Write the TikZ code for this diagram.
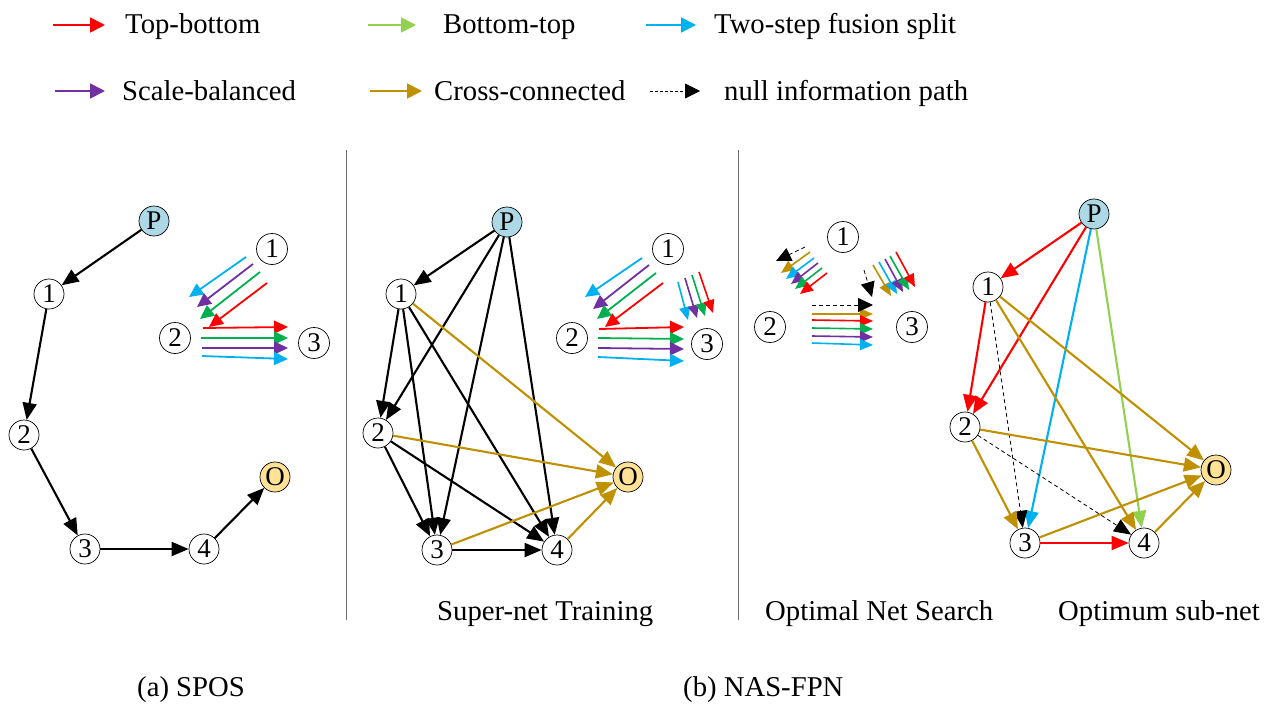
\documentclass[tikz,border=0pt]{standalone}
\usepackage{fontspec}
\setmainfont{Liberation Serif}
\usetikzlibrary{arrows.meta}
\definecolor{cred}{RGB}{255,0,0}
\definecolor{cgreenl}{RGB}{146,208,80}
\definecolor{cblue}{RGB}{0,176,240}
\definecolor{cpurple}{RGB}{112,48,160}
\definecolor{cgold}{RGB}{191,144,0}
\definecolor{cgreen}{RGB}{0,176,80}
\definecolor{cP}{RGB}{173,216,230}
\definecolor{cO}{RGB}{255,226,150}
\definecolor{csep}{RGB}{110,110,110}
\begin{document}
\begin{tikzpicture}[x=1pt,y=-1pt,
  txt/.style={font=\fontsize{28.7}{34}\selectfont,anchor=base west,inner sep=0pt},
  gn/.style={circle,draw=black,line width=0.7pt,minimum size=30pt,inner sep=0pt,fill=white,font=\fontsize{27}{27}\selectfont},
  sn/.style={circle,draw=black,line width=0.7pt,minimum size=31pt,inner sep=0pt,font=\fontsize{27}{27}\selectfont},
  pn/.style={gn,fill=cP},
  on/.style={gn,fill=cO},
  ed/.style={line width=2.1pt,-{Triangle[length=17pt,width=14pt]}},
  sa/.style={line width=1.8pt,-{Triangle[length=14pt,width=13pt]}},
  ta/.style={line width=1.6pt,-{Triangle[length=13pt,width=11pt]}},
  nl/.style={line width=0.8pt,dash pattern=on 4pt off 3pt,-{Triangle[length=17pt,width=14pt]}},
  tnl/.style={line width=0.8pt,dash pattern=on 4pt off 3pt,-{Triangle[length=15pt,width=14pt]}},
  la/.style={line width=1.8pt,-{Triangle[length=15pt,width=15pt]}},
  lnl/.style={line width=0.8pt,dash pattern=on 3pt off 2pt,-{Triangle[length=15pt,width=15pt]}},
  sep/.style={draw=csep,line width=1pt},
]
\fill[white] (0,0) rectangle (1267,704);
\useasboundingbox (0,0) rectangle (1267,704);

% ---------- legend ----------
\foreach \n/\c/\xa/\xb/\y in {l1/cred/53/105/25, l2/cgreenl/368/416/25, l3/cblue/646/696/25,
  l4/cpurple/55/105/91, l5/cgold/370/422/91}{
  \coordinate (\n s) at (\xa,\y); \coordinate (\n e) at (\xb,\y);
  \draw[la,draw=\c] (\n s) -- (\n e);
}
\coordinate (l6s) at (650,91); \coordinate (l6e) at (700,91);
\draw[lnl,draw=black] (l6s) -- (l6e);
\node[txt] (t1) at (125,34) {Top-bottom};
\node[txt] (t2) at (443,34) {Bottom-top};
\node[txt] (t3) at (714,34) {Two-step fusion split};
\node[txt] (t4) at (122,100) {Scale-balanced};
\node[txt] (t5) at (434,100) {Cross-connected};
\node[txt] (t6) at (724,100) {null information path};

% ---------- separators ----------
\coordinate (s1a) at (346,150); \coordinate (s1b) at (346,620);
\coordinate (s2a) at (738,150); \coordinate (s2b) at (738,620);
\draw[sep] (s1a) -- (s1b);
\draw[sep] (s2a) -- (s2b);

% ---------- captions ----------
\node[txt] (c1) at (437,620) {Super-net Training};
\node[txt] (c2) at (765,620) {Optimal Net Search};
\node[txt] (c3) at (1058,620) {Optimum sub-net};
\node[txt] (c4) at (137,696) {(a) SPOS};
\node[txt] (c5) at (683,696) {(b) NAS-FPN};

% ---------- panel (a) ----------
\node[pn] (aP) at (154,221) {P};
\node[gn] (a1) at (49,294) {1};
\node[gn] (a2) at (24,435) {2};
\node[gn] (a3) at (85,549) {3};
\node[gn] (a4) at (204,549) {4};
\node[on] (aO) at (275,477) {O};
\draw[ed] (aP) -- (a1);
\draw[ed] (a1) -- (a2);
\draw[ed] (a2) -- (a3);
\draw[ed] (a3) -- (a4);
\draw[ed] (a4) -- (aO);

\node[sn] (as1) at (272,249) {1};
\node[sn] (as2) at (175,338) {2};
\node[sn] (as3) at (314,343) {3};
\foreach \n/\c/\xa/\ya/\xb/\yb in {
  aa1/cblue/246/257/189/297, aa2/cpurple/253/264/197/307, aa3/cgreen/260/272/200/319, aa4/cred/267/283/209/327,
  aa5/cred/203/328/288/327, aa6/cgreen/201/338/288/338, aa7/cpurple/202/348/288/348, aa8/cblue/202/356/288/359}{
  \coordinate (\n s) at (\xa,\ya); \coordinate (\n e) at (\xb,\yb);
  \draw[sa,draw=\c] (\n s) -- (\n e);
}

% ---------- panel (b) super-net ----------
\node[pn] (bP) at (507,222) {P};
\node[gn] (b1) at (401,294) {1};
\node[gn] (b2) at (378,433) {2};
\node[gn] (b3) at (437,550) {3};
\node[gn] (b4) at (557,550) {4};
\node[on] (bO) at (628,477) {O};
\draw[ed] (bP) -- (b1);
\draw[ed] (bP) -- (b2);
\draw[ed] (bP) -- (b3);
\draw[ed] (bP) -- (b4);
\draw[ed] (b1) -- (b2);
\draw[ed] (b1) -- (b3);
\draw[ed] (b1) -- (b4);
\draw[ed] (b2) -- (b3);
\draw[ed] (b2) -- (b4);
\draw[ed] (b3) -- (b4);
\draw[ed,draw=cgold] (b1) -- (bO);
\draw[ed,draw=cgold] (b2) -- (bO);
\draw[ed,draw=cgold] (b3) -- (bO);
\draw[ed,draw=cgold] (b4) -- (bO);

\node[sn] (bs1) at (668,249) {1};
\node[sn] (bs2) at (572,338) {2};
\node[sn] (bs3) at (707,344) {3};
\foreach \n/\c/\xa/\ya/\xb/\yb in {
  bb1/cblue/642/258/585/297, bb2/cpurple/649/265/593/309, bb3/cgreen/656/273/597/319, bb4/cred/663/283/605/327,
  bb5/cred/599/329/684/327, bb6/cgreen/598/338/684/339, bb7/cpurple/598/348/684/349, bb8/cblue/598/357/684/361}{
  \coordinate (\n s) at (\xa,\ya); \coordinate (\n e) at (\xb,\yb);
  \draw[sa,draw=\c] (\n s) -- (\n e);
}
\foreach \n/\c/\xa/\ya/\xb/\yb in {
  bb9/cblue/678/282/688/320, bb10/cpurple/685/278/697/318, bb11/cgreen/692/275/705/316, bb12/cred/699/272/713/313}{
  \coordinate (\n s) at (\xa,\ya); \coordinate (\n e) at (\xb,\yb);
  \draw[ta,draw=\c] (\n s) -- (\n e);
}

% ---------- optimal net search cluster ----------
\node[sn] (cs1) at (843,237) {1};
\node[sn] (cs2) at (770,327) {2};
\node[sn] (cs3) at (912,327) {3};
\foreach \n/\c/\xa/\ya/\xb/\yb in {
  cc2/cgold/810/252/781/273, cc3/cblue/814/258/786/279, cc4/cpurple/818/263/791/284, cc5/cgreen/822/268/795/289, cc6/cred/827/273/800/294,
  cc8/cgold/873/265/891/296, cc9/cblue/879/262/897/294, cc10/cpurple/885/259/903/292, cc11/cgreen/890/256/909/290, cc12/cred/896/252/915/287,
  cc14/cgold/812/314/873/314, cc15/cred/812/320/873/321, cc16/cgreen/812/328/873/329, cc17/cpurple/812/336/873/337, cc18/cblue/812/343/873/345}{
  \coordinate (\n s) at (\xa,\ya); \coordinate (\n e) at (\xb,\yb);
  \draw[ta,draw=\c] (\n s) -- (\n e);
}
\foreach \n/\xa/\ya/\xb/\yb in {cc1/805/247/776/261, cc7/864/270/872/297, cc13/812/305/873/305}{
  \coordinate (\n s) at (\xa,\ya); \coordinate (\n e) at (\xb,\yb);
  \draw[tnl,draw=black] (\n s) -- (\n e);
}

% ---------- optimum sub-net ----------
\node[pn] (cP) at (1094,214) {P};
\node[gn] (c1n) at (988,287) {1};
\node[gn] (c2n) at (965,427) {2};
\node[gn] (c3n) at (1025,543) {3};
\node[gn] (c4n) at (1144,543) {4};
\node[on] (cO) at (1216,470) {O};
\draw[ed,draw=cred] (cP) -- (c1n);
\draw[ed,draw=cred] (cP) -- (c2n);
\draw[ed,draw=cblue] (cP) -- (c3n);
\draw[ed,draw=cgreenl] (cP) -- (c4n);
\draw[ed,draw=cred] (c1n) -- (c2n);
\draw[nl,draw=black] (c1n) -- (c3n);
\draw[ed,draw=cgold] (c1n) -- (c4n);
\draw[ed,draw=cgold] (c1n) -- (cO);
\draw[ed,draw=cgold] (c2n) -- (cO);
\draw[ed,draw=cgold] (c2n) -- (c3n);
\draw[nl,draw=black] (c2n) -- (c4n);
\draw[ed,draw=cred] (c3n) -- (c4n);
\draw[ed,draw=cgold] (c3n) -- (cO);
\draw[ed,draw=cgold] (c4n) -- (cO);
\end{tikzpicture}
\end{document}
